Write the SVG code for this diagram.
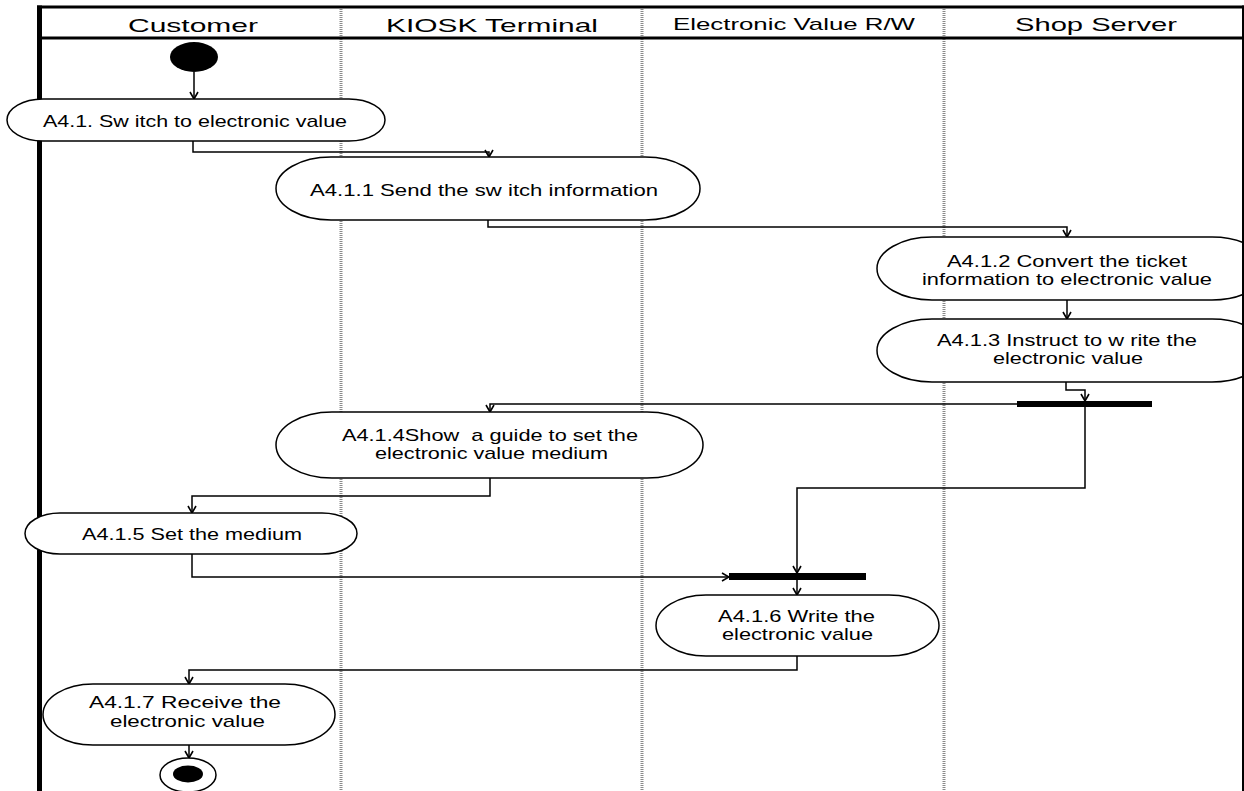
<svg xmlns="http://www.w3.org/2000/svg" width="1244" height="791" viewBox="0 0 1244 791">
<style>
.hdr{font-family:"Liberation Sans",Arial,sans-serif;font-size:19px;fill:#000;text-anchor:middle}
.t{font-family:"Liberation Sans",Arial,sans-serif;font-size:17px;fill:#000;text-anchor:middle}
.node{fill:#fff;stroke:#000;stroke-width:1.5}
.lane{stroke:#8a8a8a;stroke-width:3;stroke-dasharray:1 1;fill:none}
.frame{stroke:#000;fill:none}
.c{fill:none;stroke:#000;stroke-width:1.5;marker-end:url(#arr)}
.bar{fill:#000}
</style>
<defs>
<marker id="arr" markerUnits="userSpaceOnUse" markerWidth="10" markerHeight="10" viewBox="0 0 10 10" refX="9" refY="5" orient="auto">
<path d="M2,1 L9,5 L2,9" fill="none" stroke="#000" stroke-width="1.6"/>
</marker>
</defs>
<rect x="0" y="0" width="1244" height="791" fill="#fff"/>
<g id="lanes">
<line class="lane" x1="341" y1="7" x2="341" y2="791"/>
<line class="lane" x1="642" y1="7" x2="642" y2="791"/>
<line class="lane" x1="944" y1="7" x2="944" y2="791"/>
<line class="frame" x1="37" y1="7" x2="1244" y2="7" stroke-width="3"/>
<line class="frame" x1="37" y1="38" x2="1244" y2="38" stroke-width="3"/>
<line class="frame" x1="39.5" y1="5.5" x2="39.5" y2="791" stroke-width="5"/>
<text class="hdr" x="193" y="32" textLength="130" lengthAdjust="spacingAndGlyphs">Customer</text>
<text class="hdr" x="492" y="32" textLength="212" lengthAdjust="spacingAndGlyphs">KIOSK Terminal</text>
<text class="hdr" x="794" y="30" style="font-size:17px" textLength="242" lengthAdjust="spacingAndGlyphs">Electronic Value R/W</text>
<text class="hdr" x="1096" y="31" textLength="162" lengthAdjust="spacingAndGlyphs">Shop Server</text>
</g>
<g id="connectors">
<path class="c" d="M194 72 V99"/>
<path class="c" d="M193 141 V152 H489 V157"/>
<path class="c" d="M488 220 V227 H1067 V237"/>
<path class="c" d="M1067 300 V319"/>
<path class="c" d="M1066 382 V390 H1085 V401"/>
<path class="c" d="M1017 404 H490 V412"/>
<path class="c" d="M1085 407 V488 H797 V573"/>
<path class="c" d="M490 478 V496 H192 V513"/>
<path class="c" d="M192 554 V577 H729"/>
<path class="c" d="M797 580 V595"/>
<path class="c" d="M797 656 V670 H189 V684"/>
<path class="c" d="M189 745 V758"/>
</g>
<g id="start"><ellipse cx="194" cy="57" rx="24" ry="15" fill="#000"/></g>
<g id="n41">
<rect class="node" x="7" y="99" width="378" height="42" rx="36" ry="21"/>
<text class="t" x="195" y="127" textLength="304" lengthAdjust="spacingAndGlyphs">A4.1. Sw itch to electronic value</text>
</g>
<g id="n411">
<rect class="node" x="276" y="157" width="424" height="63" rx="55" ry="31.5"/>
<text class="t" x="484" y="196" textLength="348" lengthAdjust="spacingAndGlyphs">A4.1.1 Send the sw itch information</text>
</g>
<g id="n412">
<rect class="node" x="877" y="237" width="390" height="63" rx="55" ry="31.5"/>
<text class="t" x="1067" y="267" textLength="240" lengthAdjust="spacingAndGlyphs">A4.1.2 Convert the ticket</text>
<text class="t" x="1067" y="285" textLength="290" lengthAdjust="spacingAndGlyphs">information to electronic value</text>
</g>
<g id="n413">
<rect class="node" x="877" y="319" width="390" height="63" rx="55" ry="31.5"/>
<text class="t" x="1067" y="346" textLength="260" lengthAdjust="spacingAndGlyphs">A4.1.3 Instruct to w rite the</text>
<text class="t" x="1068" y="364" textLength="150" lengthAdjust="spacingAndGlyphs">electronic value</text>
</g>
<g id="fork1"><rect class="bar" x="1017" y="401" width="135" height="6"/></g>
<g id="n414">
<rect class="node" x="276" y="412" width="427" height="66" rx="56" ry="33"/>
<text class="t" x="490" y="441" xml:space="preserve" textLength="296" lengthAdjust="spacingAndGlyphs">A4.1.4Show  a guide to set the</text>
<text class="t" x="491.5" y="459" textLength="233" lengthAdjust="spacingAndGlyphs">electronic value medium</text>
</g>
<g id="n415">
<rect class="node" x="25" y="513" width="332" height="41" rx="35" ry="20.5"/>
<text class="t" x="192" y="540" textLength="220" lengthAdjust="spacingAndGlyphs">A4.1.5 Set the medium</text>
</g>
<g id="fork2"><rect class="bar" x="729" y="573" width="137" height="7"/></g>
<g id="n416">
<rect class="node" x="656" y="595" width="283" height="61" rx="50" ry="30.5"/>
<text class="t" x="796.5" y="622" textLength="157" lengthAdjust="spacingAndGlyphs">A4.1.6 Write the</text>
<text class="t" x="797.5" y="640" textLength="151" lengthAdjust="spacingAndGlyphs">electronic value</text>
</g>
<g id="n417">
<rect class="node" x="43" y="684" width="292" height="61" rx="50" ry="30.5"/>
<text class="t" x="185" y="708" textLength="192" lengthAdjust="spacingAndGlyphs">A4.1.7 Receive the</text>
<text class="t" x="187.5" y="727" textLength="155" lengthAdjust="spacingAndGlyphs">electronic value</text>
</g>
<g id="end">
<ellipse cx="188" cy="775" rx="28" ry="17" fill="#fff" stroke="#000" stroke-width="1.5"/>
<ellipse cx="188" cy="774" rx="15" ry="8.5" fill="#000"/>
</g>
<line class="frame" x1="1243" y1="5.5" x2="1243" y2="791" stroke-width="2"/>
</svg>
